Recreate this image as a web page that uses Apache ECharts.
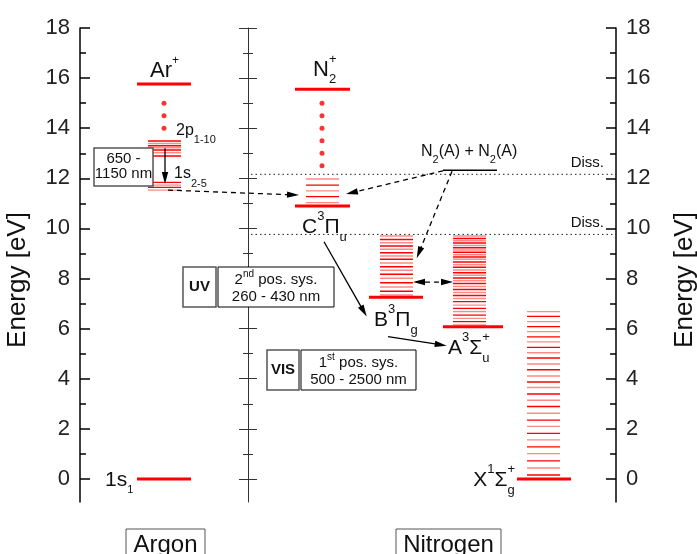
<!DOCTYPE html>
<html>
<head>
<meta charset="utf-8">
<script src="https://cdn.jsdelivr.net/npm/echarts@6/dist/echarts.min.js"></script>
<style>html,body{margin:0;padding:0;background:#fff}#c{width:697px;height:554px}</style>
</head>
<body>
<div id="c"></div>
<script>
// ---------- data (energies in eV) ----------
const yMajorTicks = [0, 2, 4, 6, 8, 10, 12, 14, 16, 18];
const yMinorTicks = [1, 3, 5, 7, 9, 11, 13, 15, 17];

const arIonEnergy = [15.76];
const arDots = [15.0, 14.5, 14.0];
const ar2pEnergies = [13.49, 13.39, 13.30, 13.22, 13.13, 13.02, 12.89];
const ar1sEnergies = [11.84, 11.73, 11.64, 11.53];
const arGroundEnergy = [0];

const n2IonEnergy = [15.56];
const n2Dots = [15.0, 14.5, 14.0, 13.5, 13.0, 12.5];
const cBaseEnergy = [10.90];
const cVibEnergies = [11.97, 11.73, 11.50, 11.27, 11.03];
const bBaseEnergy = [7.25];
const bVibEnergies = [9.70, 9.56, 9.43, 9.30, 9.17, 9.03, 8.90, 8.77, 8.62, 8.47, 8.33, 8.17, 8.01, 7.83, 7.66, 7.49, 7.34];
const aBaseEnergy = [6.08];
const aVibEnergies = [9.70, 9.60, 9.51, 9.42, 9.32, 9.23, 9.14, 9.05, 8.95, 8.86, 8.77, 8.66, 8.55, 8.45, 8.34, 8.23, 8.13, 8.02, 7.91, 7.80, 7.68, 7.56, 7.44, 7.32, 7.20, 7.08, 6.94, 6.81, 6.68, 6.54, 6.41, 6.28, 6.15];
const xBaseEnergy = [0];
const xVibEnergies = [6.68, 6.49, 6.28, 6.08, 5.88, 5.67, 5.47, 5.25, 5.04, 4.83, 4.59, 4.36, 4.11, 3.87, 3.65, 3.39, 3.14, 2.89, 2.62, 2.35, 2.10, 1.82, 1.56, 1.28, 1.01, 0.72, 0.44, 0.16];
const n2aPairEnergy = [12.32];
const dissEnergies = [12.16, 9.76];

// transitions: [xStart, eStart, xEnd, eEnd, dashed, doubleHeaded]
const transitionArrows = [
  [165, 13.20, 165, 11.77, 0, 0],
  [168, 11.53, 299, 11.33, 1, 0],
  [443, 12.30, 346, 11.37, 1, 0],
  [452, 12.28, 416.7, 8.81, 1, 0],
  [324, 9.47, 366.7, 6.48, 0, 0],
  [388, 5.68, 446.7, 5.32, 0, 0],
  [413, 7.86, 453, 7.86, 1, 1]
];

// ---------- layout (x units) ----------
const COL = {
  arThick: [137, 191], arThin: [148, 181], arDotX: 164,
  n2Thick: [295, 350], n2DotX: 322, cThin: [306, 339],
  bThick: [369, 423], bThin: [380, 413],
  aThick: [443, 503], aThin: [453, 486],
  xThick: [517, 571], xThin: [527, 560],
  pair: [443, 497], diss: [251, 616]
};
const STYLES = [
  {c: '#ff0000', d: null},
  {c: '#ff8a8a', d: null},
  {c: '#000000', d: null},
  {c: '#222222', d: [1.5, 3]}
];
const FONT = '"Liberation Sans", Arial, Helvetica, sans-serif';

function rows(energies, xr, lw, styleFn) {
  return energies.map((e, i) => [xr[0], xr[1], e, lw, styleFn(i)]);
}
const alt = i => (i % 2 === 0 ? 1 : 0);
const red = () => 0;

const levelData = [].concat(
  rows(arIonEnergy, COL.arThick, 3, red),
  rows(ar2pEnergies, COL.arThin, 1.4, i => (i % 2 ? 1 : 0)),
  rows(ar1sEnergies, COL.arThin, 1.4, i => (i % 2 ? 1 : 0)),
  rows(arGroundEnergy, COL.arThick, 3, red),
  rows(n2IonEnergy, COL.n2Thick, 3, red),
  rows(cVibEnergies, COL.cThin, 1.4, alt),
  rows(cBaseEnergy, COL.n2Thick, 3, red),
  rows(bVibEnergies, COL.bThin, 1.4, alt),
  rows(bBaseEnergy, COL.bThick, 3, red),
  rows(aVibEnergies, COL.aThin, 1.4, alt),
  rows(aBaseEnergy, COL.aThick, 3, red),
  rows(xVibEnergies, COL.xThin, 1.4, alt),
  rows(xBaseEnergy, COL.xThick, 3, red),
  rows(n2aPairEnergy, COL.pair, 1.5, () => 2),
  rows(dissEnergies, COL.diss, 1, () => 3)
);
const dotData = arDots.map(e => [COL.arDotX, e]).concat(n2Dots.map(e => [COL.n2DotX, e]));

function levelRender(params, api) {
  const a = api.coord([api.value(0), api.value(2)]);
  const b = api.coord([api.value(1), api.value(2)]);
  const s = STYLES[api.value(4)];
  return {type: 'line', shape: {x1: a[0], y1: a[1], x2: b[0], y2: b[1]},
    style: {stroke: s.c, lineWidth: api.value(3), lineDash: s.d}};
}
function arrowRender(params, api) {
  const p1 = api.coord([api.value(0), api.value(1)]);
  const p2 = api.coord([api.value(2), api.value(3)]);
  const dashed = api.value(4), both = api.value(5);
  const L = 12, W = 3.2;
  const dx = p2[0] - p1[0], dy = p2[1] - p1[1];
  const len = Math.hypot(dx, dy), ux = dx / len, uy = dy / len;
  const px = -uy, py = ux;
  const head = (t, sx, sy) => ({type: 'polygon', shape: {points: [
    [t[0], t[1]],
    [t[0] - L * sx + W * px, t[1] - L * sy + W * py],
    [t[0] - L * sx - W * px, t[1] - L * sy - W * py]]}, style: {fill: '#000'}});
  const s = both ? [p1[0] + L * ux, p1[1] + L * uy] : p1;
  const e = [p2[0] - (L - 2) * ux, p2[1] - (L - 2) * uy];
  const children = [{type: 'line', shape: {x1: s[0], y1: s[1], x2: e[0], y2: e[1]},
    style: {stroke: '#000', lineWidth: 1.3, lineDash: dashed ? [5, 4] : null}}, head(p2, ux, uy)];
  if (both) children.push(head(p1, -ux, -uy));
  return {type: 'group', children};
}

// ---------- axes ----------
function yax(position, offset, ticks, len, inside, labels, line, color, width) {
  return {
    type: 'value', min: -0.92, max: 18, position, offset,
    splitLine: {show: false},
    axisLine: {show: line, onZero: false, lineStyle: {color, width}},
    axisTick: {show: true, inside, length: len, customValues: ticks, lineStyle: {color, width}},
    axisLabel: {show: labels, customValues: ticks, margin: 10, fontSize: 22, fontFamily: FONT, color: '#222'}
  };
}

// ---------- text helpers ----------
const mctx = document.createElement('canvas').getContext('2d');
function tw(t, s, b) { mctx.font = (b ? 'bold ' : '') + s + 'px ' + FONT; return mctx.measureText(t).width; }
function seq(x, cy, parts, align) {
  const items = []; let cur = 0;
  parts.forEach(p => {
    if (p.stack) {
      items.push({t: p.stack[0], s: p.s, x: cur, dy: p.dy[0]});
      items.push({t: p.stack[1], s: p.s, x: cur, dy: p.dy[1]});
      cur += Math.max(tw(p.stack[0], p.s), tw(p.stack[1], p.s));
    } else {
      items.push({t: p.t, s: p.s, x: cur, dy: p.dy || 0, b: p.b});
      cur += tw(p.t, p.s, p.b);
    }
  });
  const x0 = align === 'center' ? x - cur / 2 : align === 'right' ? x - cur : x;
  return items.map(it => ({type: 'text', silent: true, z: 10, style: {
    text: it.t, x: x0 + it.x, y: cy + it.dy, font: (it.b ? 'bold ' : '') + it.s + 'px ' + FONT,
    fill: '#111', textAlign: 'left', textVerticalAlign: 'middle', align: 'left', verticalAlign: 'middle'}}));
}
function box(x, y, w, h, stroke, lw) {
  return {type: 'rect', silent: true, z: 5, shape: {x, y, width: w, height: h},
    style: {fill: '#fff', stroke, lineWidth: lw}};
}
const M = 21, S = 13;
const graphics = [].concat(
  seq(150, 71, [{t: 'Ar', s: 22}, {t: '+', s: 12, dy: -10}]),
  seq(313, 70, [{t: 'N', s: 22}, {stack: ['+', '2'], s: 13, dy: [-11, 9]}]),
  seq(176, 131, [{t: '2p', s: 16}, {t: '1-10', s: 11, dy: 9}]),
  seq(174, 174, [{t: '1s', s: 16}, {t: '2-5', s: 11, dy: 10}]),
  seq(302, 227, [{t: 'C', s: M}, {t: '3', s: S, dy: -11}, {t: 'Π', s: M}, {t: 'u', s: S, dy: 10}]),
  seq(374, 320, [{t: 'B', s: M}, {t: '3', s: S, dy: -11}, {t: 'Π', s: M}, {t: 'g', s: S, dy: 10}]),
  seq(448, 348, [{t: 'A', s: M}, {t: '3', s: S, dy: -11}, {t: 'Σ', s: M}, {stack: ['+', 'u'], s: S, dy: [-11, 10]}]),
  seq(515, 480, [{t: 'X', s: M}, {t: '1', s: S, dy: -11}, {t: 'Σ', s: M}, {stack: ['+', 'g'], s: S, dy: [-11, 10]}], 'right'),
  seq(105, 480, [{t: '1s', s: M}, {t: '1', s: 11, dy: 10}]),
  seq(421, 152, [{t: 'N', s: 16}, {t: '2', s: 11, dy: 8}, {t: '(A) + N', s: 16}, {t: '2', s: 11, dy: 8}, {t: '(A)', s: 16}]),
  seq(604, 163, [{t: 'Diss.', s: 15}], 'right'),
  seq(604, 223, [{t: 'Diss.', s: 15}], 'right'),
  [box(94, 148, 59, 38, '#555', 1.5)],
  seq(123.5, 158.5, [{t: '650 -', s: 15}], 'center'),
  seq(123.5, 174, [{t: '1150 nm', s: 15}], 'center'),
  [box(183, 267, 33, 40, '#555', 1.5), box(218, 267, 116, 40, '#000', 1)],
  seq(199.5, 287, [{t: 'UV', s: 15, b: true}], 'center'),
  seq(276, 280, [{t: '2', s: 15}, {t: 'nd', s: 10, dy: -6}, {t: ' pos. sys.', s: 15}], 'center'),
  seq(276, 297, [{t: '260 - 430 nm', s: 15}], 'center'),
  [box(267, 350, 32, 40, '#555', 1.5), box(301, 350, 115, 40, '#000', 1)],
  seq(283, 370, [{t: 'VIS', s: 15, b: true}], 'center'),
  seq(358.5, 363, [{t: '1', s: 15}, {t: 'st', s: 10, dy: -6}, {t: ' pos. sys.', s: 15}], 'center'),
  seq(358.5, 380, [{t: '500 - 2500 nm', s: 15}], 'center'),
  [box(126, 529, 79, 40, '#555', 1), box(396, 529, 105, 40, '#555', 1)],
  seq(165.5, 545, [{t: 'Argon', s: 24}], 'center'),
  seq(448.5, 545, [{t: 'Nitrogen', s: 24}], 'center'),
  [{type: 'text', silent: true, x: 18, y: 280, rotation: Math.PI / 2, style: {text: 'Energy [eV]', font: '26px ' + FONT, fill: '#111', textAlign: 'center', textVerticalAlign: 'middle', align: 'center', verticalAlign: 'middle'}},
   {type: 'text', silent: true, x: 685, y: 280, rotation: Math.PI / 2, style: {text: 'Energy [eV]', font: '26px ' + FONT, fill: '#111', textAlign: 'center', textVerticalAlign: 'middle', align: 'center', verticalAlign: 'middle'}}]
);

const chart = echarts.init(document.getElementById('c'), null, {renderer: 'canvas'});
chart.setOption({
  animation: false,
  backgroundColor: '#fff',
  grid: {left: 80, right: 81, top: 28, bottom: 52},
  xAxis: {type: 'value', min: 80, max: 616, show: false},
  yAxis: [
    yax('left', 0, yMajorTicks, 10, true, true, true, '#000', 1.5),
    yax('left', 0, yMinorTicks, 6, true, false, false, '#000', 1.5),
    yax('right', 0, yMajorTicks, 10, true, true, true, '#000', 1.5),
    yax('right', 0, yMinorTicks, 6, true, false, false, '#000', 1.5),
    yax('left', -168, yMajorTicks, 9, true, false, true, '#333', 1),
    yax('left', -168, yMajorTicks, 9, false, false, false, '#333', 1),
    yax('left', -168, yMinorTicks, 5, true, false, false, '#333', 1),
    yax('left', -168, yMinorTicks, 5, false, false, false, '#333', 1)
  ],
  series: [
    {type: 'custom', renderItem: levelRender, data: levelData, encode: {x: [0, 1], y: 2}, silent: true, z: 2},
    {type: 'scatter', data: dotData, symbolSize: 5, itemStyle: {color: '#ff0000'}, silent: true, z: 3},
    {type: 'custom', renderItem: arrowRender, data: transitionArrows, encode: {x: [0, 2], y: [1, 3]}, silent: true, z: 4}
  ],
  graphic: graphics
});
</script>
</body>
</html>
